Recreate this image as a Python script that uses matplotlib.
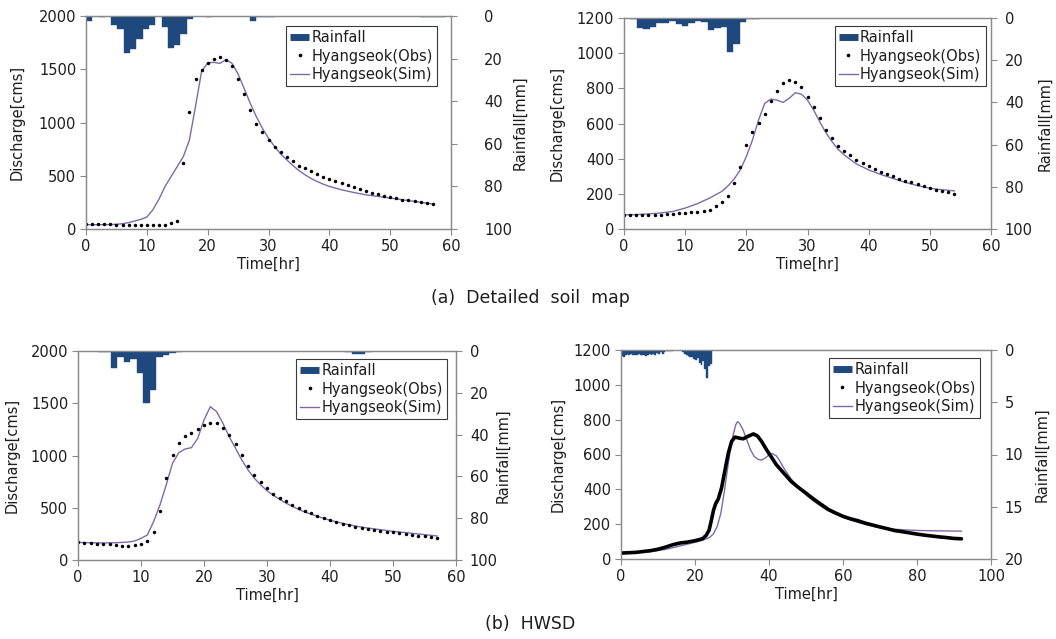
import numpy as np
import matplotlib
matplotlib.use("Agg")
import matplotlib.pyplot as plt
from matplotlib.lines import Line2D

plt.rcParams['font.family'] = ['DejaVu Sans']

BLUE = '#1F497D'
PURPLE = '#7F6AA6'
SPINE = '#8a8a8a'
TXT = '#1e1e1e'

# ---------------- Panel (a) left : Detailed soil map, event 1 ----------------
a1_obs_t = list(range(0, 58))
a1_obs_q = [45, 45, 45, 44, 43, 42, 38, 37, 37, 37, 37, 37, 38, 40, 53, 75,
            624, 1098, 1407, 1491, 1563, 1594, 1616, 1588, 1529, 1413, 1264, 1117,
            983, 908, 836, 774, 727, 680, 636, 596, 571, 543, 518, 490, 471, 449,
            430, 412, 390, 371, 356, 340, 324, 309, 300, 287, 275, 268, 262, 253,
            243, 231]
a1_sim_t = [0, 2, 4, 5, 6, 7, 8, 9, 10, 11, 12, 13, 14, 15, 16, 17, 18, 19, 20,
            21, 22, 23, 24, 25, 26, 27, 28, 29, 30, 31, 32, 33, 34, 35, 36, 37, 38,
            39, 40, 42, 44, 46, 48, 50, 52, 54, 56, 57]
a1_sim_q = [40, 40, 42, 44, 50, 60, 75, 90, 112, 181, 281, 400, 493, 587, 680,
            836, 1150, 1480, 1560, 1565, 1555, 1590, 1555, 1455, 1320, 1180, 1055,
            945, 852, 774, 705, 649, 596, 549, 509, 474, 446, 421, 400, 368, 343,
            321, 306, 290, 275, 259, 243, 234]
a1_rain = [2.5, 0, 0.6, 0, 4.2, 6.3, 17.5, 15.6, 10.8, 6.3, 4.2, 0, 5.0, 15.2,
           13.6, 8.5, 1.2, 0.2, 0, 0.3, 0, 0, 0, 0.2, 0.2, 0, 2.2, 0.7, 0.6, 0.3,
           0, 0, 0, 0, 0, 0, 0, 0, 0, 0, 0, 0, 0, 0, 0, 0, 0, 0, 0, 0, 0, 0, 0,
           0.6, 0.6, 0.6, 0.6, 0.2]

# ---------------- Panel (a) right : Detailed soil map, event 2 ----------------
a2_obs_t = list(range(0, 55))
a2_obs_q = [81, 81, 80, 80, 79, 79, 81, 83, 85, 89, 91, 94, 98, 100, 110, 128,
            151, 185, 263, 355, 478, 550, 601, 654, 730, 786, 832, 847, 837, 807,
            750, 696, 631, 563, 518, 474, 446, 420, 395, 374, 359, 340, 325, 314,
            299, 285, 274, 265, 255, 242, 232, 223, 214, 210, 200]
a2_sim_t = [0, 2, 4, 6, 8, 10, 12, 14, 16, 17, 18, 19, 20, 21, 22, 23, 24, 25, 26,
            27, 28, 29, 30, 31, 32, 33, 34, 35, 36, 38, 40, 42, 44, 46, 48, 50, 52,
            54]
a2_sim_q = [81, 82, 86, 91, 100, 119, 144, 176, 214, 245, 284, 336, 412, 506,
            620, 714, 739, 733, 720, 743, 775, 767, 733, 677, 610, 548, 497, 454,
            421, 370, 336, 310, 287, 265, 246, 232, 223, 217]
a2_rain = [0, 0.6, 4.9, 5.4, 4.1, 2.2, 2.2, 1.3, 2.8, 3.8, 2.2, 1.3, 1.7, 5.7,
           4.9, 4.4, 16.0, 12.5, 2.1, 0.3, 0.3, 0.2, 0, 0, 0, 0, 0, 0, 0, 0, 0,
           0, 0, 0, 0, 0, 0, 0, 0, 0, 0, 0, 0, 0, 0, 0, 0, 0, 0, 0, 0, 0, 0, 0,
           0, 0, 0]

# ---------------- Panel (b) left : HWSD, event 1 ----------------
b1_obs_t = list(range(0, 58))
b1_obs_q = [169, 166, 160, 156, 153, 150, 144, 137, 137, 140, 153, 182, 265, 469,
            788, 1008, 1123, 1187, 1212, 1250, 1289, 1308, 1308, 1266, 1199, 1113,
            1008, 896, 810, 743, 692, 635, 597, 561, 523, 494, 469, 447, 424, 402,
            383, 364, 344, 332, 319, 306, 297, 287, 278, 271, 265, 258, 252, 242,
            233, 226, 220, 214]
b1_sim_t = [0, 2, 4, 6, 8, 9, 10, 11, 12, 13, 14, 15, 16, 17, 18, 19, 20, 21, 22,
            23, 24, 25, 26, 27, 28, 29, 30, 31, 32, 33, 34, 35, 36, 38, 40, 42, 44,
            46, 48, 50, 52, 54, 56, 57]
b1_sim_q = [169, 165, 163, 165, 172, 182, 207, 239, 367, 526, 718, 925, 1027,
            1062, 1075, 1164, 1340, 1467, 1420, 1308, 1180, 1069, 957, 861, 782,
            718, 663, 619, 581, 545, 514, 485, 459, 418, 380, 351, 325, 306, 290,
            274, 262, 249, 236, 230]
b1_rain = [0, 0, 0, 0.3, 0.3, 8.3, 2.7, 5.1, 4.0, 10.4, 24.7, 18.7, 2.7, 1.9, 0.8,
           0.3, 0.2, 0, 0, 0, 0, 0, 0, 0, 0, 0, 0, 0, 0, 0, 0, 0, 0, 0, 0, 0, 0,
           0, 0, 0, 0, 0.3, 1.6, 1.6, 0.3, 0, 0, 0, 0, 0, 0, 0, 0, 0, 0, 0, 0, 0]

# ---------------- Panel (b) right : HWSD, event 2 ----------------
b2_obs_t = [0, 4, 8, 10, 12, 14, 16, 18, 20, 22, 23, 23.8, 24.4, 25, 25.6, 26.3,
            27.2, 28.1, 29, 29.9, 30.8, 32, 33, 34.4, 35.8, 36.9, 38, 39.4, 40.5,
            42, 44, 46, 48, 50, 52, 54, 56, 58, 60, 62, 64, 66, 68, 70, 72, 74, 76,
            78, 80, 82, 84, 86, 88, 90, 92]
b2_obs_q = [34, 38, 48, 56, 68, 82, 92, 97, 105, 116, 135, 165, 220, 280, 318,
            345, 410, 510, 608, 675, 700, 694, 690, 705, 718, 706, 675, 625, 590,
            541, 493, 445, 410, 378, 345, 315, 285, 264, 245, 231, 220, 206, 195,
            184, 174, 163, 157, 150, 143, 137, 132, 127, 123, 118, 116]
b2_sim_t = [0, 8, 12, 16, 20, 22, 24, 25, 26, 27, 28, 29, 30, 31, 31.5, 32, 33,
            34, 35, 36, 37, 38, 39, 40, 40.8, 42, 43, 44, 46, 48, 50, 52, 54, 56,
            58, 60, 62, 64, 66, 68, 70, 72, 76, 80, 84, 88, 92]
b2_sim_q = [34, 42, 55, 75, 96, 107, 124, 145, 187, 264, 397, 550, 684, 770, 789,
            780, 741, 684, 627, 589, 572, 568, 580, 598, 606, 592, 560, 522, 459,
            410, 368, 333, 303, 277, 258, 239, 224, 210, 199, 188, 180, 174, 168,
            164, 162, 161, 160]
b2_rain = [0.6, 0.65, 0.5, 0.4, 0.45, 0.4, 0.45, 0.5, 0.45, 0.4, 0.5, 0.45, 0.5,
           0.55, 0.45, 0.4, 0.5, 0.35, 0.45, 0.3, 0.4, 0.2, 0.35, 0.15, 0.1, 0.05,
           0.05, 0.05, 0.03, 0.03, 0.03, 0.03, 0.03, 0.2, 0.35, 0.5, 0.6, 0.7,
           0.65, 0.9, 1.0, 0.8, 1.2, 1.4, 1.1, 1.8, 2.7, 1.5, 1.3, 0.0]
b2_rain_step = 0.5  # hours per rainfall record

LABELS = ['Rainfall', 'Hyangseok(Obs)', 'Hyangseok(Sim)']


def panel(rect, obs_t, obs_q, sim_t, sim_q, rain, rain_step, xmax, xstep,
          ymax, ystep, rmax, rstep, leg_anchor, ylab_x, rlab_x, rpad,
          obs_as_line=False):
    ax = fig.add_axes(rect)
    ax2 = ax.twinx()
    # rainfall bars (inverted secondary axis)
    rt = np.arange(len(rain)) * rain_step
    ax2.bar(rt, rain, width=rain_step, align='edge', color=BLUE,
            edgecolor=BLUE, linewidth=0.3)
    ax2.set_ylim(rmax, 0)
    ax2.set_yticks(np.arange(0, rmax + 0.1, rstep))
    # discharge
    ax.plot(sim_t, sim_q, color=PURPLE, lw=1.0, zorder=3)
    if obs_as_line:
        ax.plot(obs_t, obs_q, color='black', lw=2.6, zorder=4,
                solid_capstyle='round', solid_joinstyle='round')
    else:
        ax.plot(obs_t, obs_q, ls='none', marker='o', ms=2.5, mew=0,
                color='black', zorder=4)
    ax.set_xlim(0, xmax)
    ax.set_ylim(0, ymax)
    ax.set_xticks(np.arange(0, xmax + 0.1, xstep))
    ax.set_yticks(np.arange(0, ymax + 0.1, ystep))
    for a in (ax, ax2):
        for s in a.spines.values():
            s.set_color(SPINE)
            s.set_linewidth(0.9)
    ax.tick_params(axis='both', direction='out', length=4, width=0.8,
                   color=SPINE, labelsize=10.5, labelcolor=TXT)
    ax.tick_params(axis='x', pad=3)
    ax.tick_params(axis='y', pad=3)
    ax2.tick_params(axis='y', direction='out', length=4, width=0.8,
                    color=SPINE, labelsize=10.5, labelcolor=TXT, pad=rpad)
    ax.set_xlabel('Time[hr]', fontsize=10.5, color=TXT)
    ax.xaxis.set_label_coords(0.5, -0.167)
    ax.xaxis.label.set_va('center')
    ax.set_ylabel('Discharge[cms]', fontsize=10.5, color=TXT)
    ax.yaxis.set_label_coords(ylab_x, 0.5)
    ax.yaxis.label.set_va('center')
    ax2.set_ylabel('Rainfall[mm]', fontsize=10.5, color=TXT)
    ax2.yaxis.set_label_coords(rlab_x, 0.5)
    ax2.yaxis.label.set_va('center')
    handles = [Line2D([], [], color=BLUE, lw=5, solid_capstyle='butt'),
               Line2D([], [], ls='none', marker='o', ms=2.6, mew=0, color='black'),
               Line2D([], [], color=PURPLE, lw=1.0)]
    leg = ax2.legend(handles, LABELS, loc='upper right', bbox_to_anchor=leg_anchor,
                     frameon=True, fancybox=False, framealpha=1,
                     edgecolor='#3a3a3a', fontsize=10.5, handlelength=1.3,
                     handletextpad=0.15, borderpad=0.3, labelspacing=0.22,
                     borderaxespad=0)
    leg.get_frame().set_linewidth(0.8)
    for txt in leg.get_texts():
        txt.set_color(TXT)
    return ax, ax2


W, H = 1056, 639
fig = plt.figure(figsize=(W / 100, H / 100), dpi=100)


def rect(x0, x1, ytop, ybot):
    return [x0 / W, 1 - ybot / H, (x1 - x0) / W, (ybot - ytop) / H]


panel(rect(86, 451, 16, 229), a1_obs_t, a1_obs_q, a1_sim_t, a1_sim_q,
      a1_rain, 60 / len(a1_rain), 60, 10, 2000, 500, 100, 20,
      (0.962, 0.953), -0.19, 1.19, 20)
panel(rect(624, 991, 18, 229), a2_obs_t, a2_obs_q, a2_sim_t, a2_sim_q,
      a2_rain, 60 / len(a2_rain), 60, 10, 1200, 200, 100, 20,
      (0.986, 0.962), -0.183, 1.147, 6)
panel(rect(78, 456, 351, 560), b1_obs_t, b1_obs_q, b1_sim_t, b1_sim_q,
      b1_rain, 60 / len(b1_rain), 60, 10, 2000, 500, 100, 20,
      (0.976, 0.962), -0.175, 1.124, 6)
panel(rect(621, 991, 350, 559), b2_obs_t, b2_obs_q, b2_sim_t, b2_sim_q,
      b2_rain, b2_rain_step, 100, 20, 1200, 200, 20, 5,
      (0.970, 0.962), -0.17, 1.138, 6, obs_as_line=True)

fig.text(530 / W, 1 - 298 / H, '(a)  Detailed  soil  map', ha='center',
         va='center', fontsize=12.5, color=TXT)
fig.text(530 / W, 1 - 624 / H, '(b)  HWSD', ha='center', va='center',
         fontsize=12.5, color=TXT)

fig.savefig('out.png', dpi=100)
